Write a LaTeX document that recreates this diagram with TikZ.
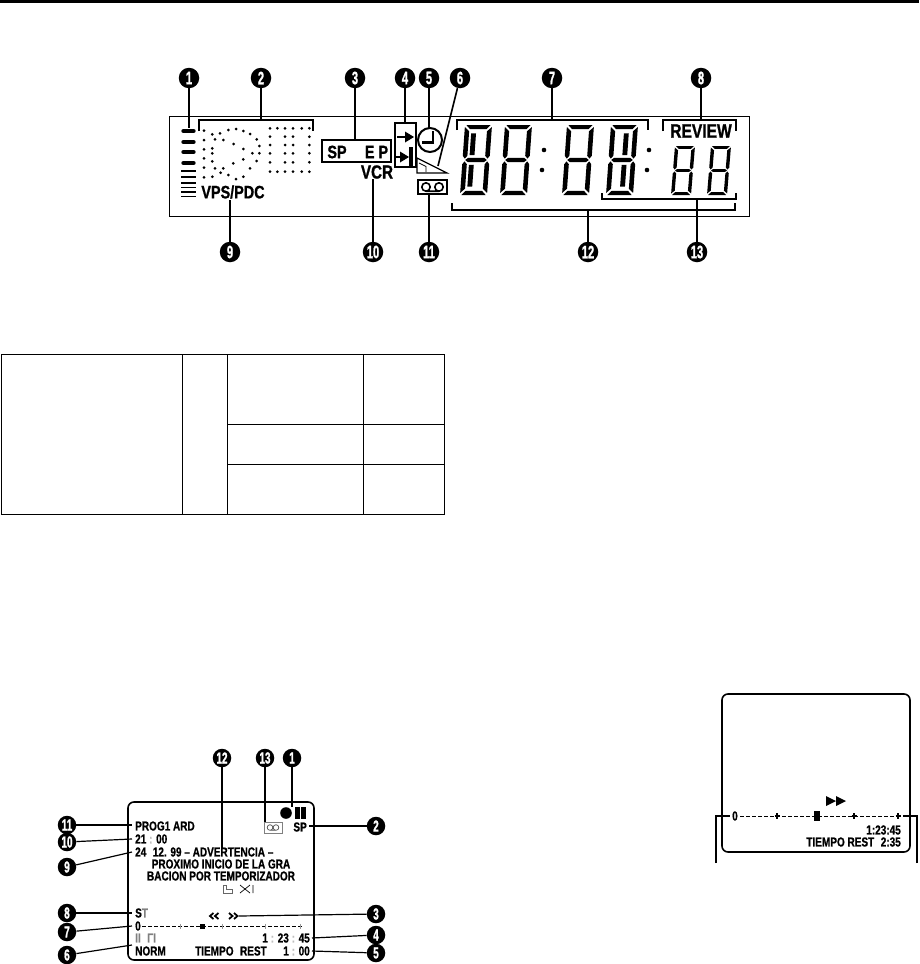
\documentclass[tikz,border=0pt]{standalone}
\usepackage{fontspec}
\setmainfont{Liberation Sans}
\newfontfamily\lcdfont[FakeStretch=0.8, FakeBold=1]{Liberation Sans Bold}
\newfontfamily\osdfont[FakeStretch=0.77, FakeBold=0.8]{Liberation Sans Bold}
\newfontfamily\badgefont[FakeStretch=0.62, FakeBold=1.2]{Liberation Sans Bold}
\usetikzlibrary{arrows.meta, positioning}
\newcommand{\lcddigit}[5]{%
  \begin{scope}[shift={(#1,#2)}, x={(#3 pt,0pt)}, y={(-#5 pt,-#4 pt)}]
    \fill (.05,0)--(.95,0)--(.8,.06)--(.2,.06)--cycle;
    \fill (.05,1)--(.95,1)--(.8,.94)--(.2,.94)--cycle;
    \fill (.1,.5)--(.2,.47)--(.8,.47)--(.9,.5)--(.8,.53)--(.2,.53)--cycle;
    \fill (0,.03)--(.17,.09)--(.17,.44)--(.08,.48)--(0,.44)--cycle;
    \fill (0,.97)--(.17,.91)--(.17,.56)--(.08,.52)--(0,.56)--cycle;
    \fill (1,.03)--(.83,.09)--(.83,.44)--(.92,.48)--(1,.44)--cycle;
    \fill (1,.97)--(.83,.91)--(.83,.56)--(.92,.52)--(1,.56)--cycle;
  \end{scope}}
\newcommand{\lcdbars}[3]{%
  \begin{scope}[shift={(#1,#2)}, x={(27pt,0pt)}, y={(-5pt,-70pt)}]
    \fill (#3,.12)--(#3+.18,.12)--(#3+.18,.43)--(#3,.43)--cycle;
    \fill (#3,.57)--(#3+.18,.57)--(#3+.18,.88)--(#3,.88)--cycle;
  \end{scope}}
\tikzset{
  badge/.style={circle, fill=black, text=white, inner sep=0pt, minimum size=20.5pt,
    font=\badgefont\fontsize{18}{18}\selectfont},
  smallbadge/.style={badge, minimum size=18.5pt, font=\badgefont\fontsize{16}{16}\selectfont},
  lead/.style={line width=1.6pt},
  osdlead/.style={line width=1.2pt},
  lcdlabel/.style={inner sep=0pt, font=\lcdfont\fontsize{#1}{#1}\selectfont},
  osd/.style={inner sep=0pt, anchor=west, font=\osdfont\fontsize{13}{13}\selectfont},
  osdright/.style={osd, anchor=east},
  grid/.style={line width=1pt},
  faint/.style={black!40, line width=0.5pt},
  dashline/.style={line width=1pt, dash pattern=on 4pt off 2pt}
}
\begin{document}
\begin{tikzpicture}[x=1pt, y=-1pt, >=Stealth]
  \useasboundingbox (0,0) rectangle (919,964);
  \fill (0,0) rectangle (919,3);
  % display panel
  \draw[line width=1pt] (169,116) rectangle (749,216);
  \node[badge] (a1) at (189,78) {1};
  \node[badge] (a2) at (261,78) {2};
  \node[badge] (a3) at (355,78) {3};
  \node[badge] (a4) at (405,78) {4};
  \node[badge] (a5) at (429,78) {5};
  \node[badge] (a6) at (460,78) {6};
  \node[badge] (a7) at (552,78) {7};
  \node[badge] (a8) at (701,78) {8};
  \node[badge] (a9) at (230,252) {9};
  \node[badge] (a10) at (373,252) {10};
  \node[badge] (a11) at (429,252) {11};
  \node[badge] (a12) at (588,252) {12};
  \node[badge] (a13) at (697,252) {13};
  % level bars
  \foreach \y in {131,142,152,163}{ \draw[line width=4.4pt, line cap=round] (183.5,\y) -- (193.5,\y); }
  \foreach \y in {171,177,183,187.5,192,196.5}{ \draw[line width=1.7pt] (181,\y) -- (196,\y); }
  % dial dots
  \foreach \a/\b in {87/32,160/30,183/27,205/33,135/40,112/43,225/42,120/58,145/60,87/60,245/58,
      176/72,253/78,87/88,112/85,205/87,112/100,232/100,253/100,87/115,205/118,245/123,112/124,
      175/130,87/143,120/145,145/145,225/145,137/158,160/165,87/172,112/170,205/170,183/177}{
    \fill (175+\a/3,120+\b/3) circle (1.5);
  }
  \foreach \y in {128.3,171.7}{
    \foreach \x in {270,277.3,285,293,301.7,309.3}{ \fill (\x,\y) circle (1.5); }}
  \foreach \y in {136.7,145,153.3,162.3}{
    \foreach \x in {270,285,293,309.3}{ \fill (\x,\y) circle (1.5); }}
  % labels
  \node[lcdlabel=18] (vps) at (233,192) {VPS/PDC};
  \node[lcdlabel=18] (sp) at (337,152) {SP};
  \node[lcdlabel=18] (ep) at (376.5,152) {E\hspace{4pt}P};
  \node[lcdlabel=19] (vcr) at (377,172) {VCR};
  \node[lcdlabel=19.5] (review) at (701,131) {REVIEW};
  \draw[line width=2.2pt] (322,140) rectangle (391,162);
  % arrows box
  \draw[line width=2.2pt] (395,123) rectangle (416,167);
  \draw[line width=2.6pt] (397,137) -- (407,137);
  \fill (405,131.5) -- (414,137) -- (405,142.5) -- cycle;
  \draw[line width=2.6pt] (396,157) -- (402,157);
  \fill (400,151.5) -- (409,157) -- (400,162.5) -- cycle;
  \draw[line width=3.2pt] (411,147) -- (411,166);
  % clock
  \draw[line width=2pt] (430,140) circle (12);
  \draw[line width=2.2pt] (433,131) -- (433,142.5) -- (422,142.5);
  % tape wedge and cassette
  \draw[line width=1.2pt] (417,158) -- (447,173) -- (417,173) -- cycle;
  \draw[line width=0.8pt] (419,163) -- (426,166.5) -- (426,172);
  \draw[line width=2pt] (418,180) rectangle (447,194);
  \draw[line width=1.6pt] (426,187) circle (4.2) (439,187) circle (4.2) (426,191.2) -- (439,191.2);
  % digits
  \foreach \x in {465,505,567,611}{ \lcddigit{\x}{125}{27}{70}{5} }
  \lcdbars{465}{125}{.25}
  \lcdbars{611}{125}{.5}
  \foreach \x in {675,711}{ \lcddigit{\x}{146}{20}{49}{4} }
  \foreach \x in {543,648}{
    \fill (\x+1,150) circle (2.3);
    \fill (\x-1,170) circle (2.3);
  }
  % connectors of the panel
  \coordinate (e1) at (189,128);
  \coordinate (e2) at (261,120);
  \coordinate (e3) at (355,140);
  \coordinate (e4) at (405,123);
  \coordinate (e5) at (429,128);
  \coordinate (e6) at (438,166);
  \coordinate (e7) at (552,120);
  \coordinate (e8) at (701,120);
  \coordinate (e9) at (230,200);
  \coordinate (e10) at (373,179);
  \coordinate (e11) at (429,194);
  \coordinate (e12) at (588,210);
  \coordinate (e13) at (697,199);
  \foreach \n in {1,...,13}{ \draw[lead] (a\n) -- (e\n); }
  \draw[lead] (199,131) -- (199,120) -- (313,120) -- (313,131);
  \draw[lead] (457,130) -- (457,120) -- (648,120) -- (648,130);
  \draw[lead] (663,131) -- (663,120) -- (736,120) -- (736,131);
  \draw[lead] (452,203) -- (452,210) -- (735,210) -- (735,203);
  \draw[lead] (602,193) -- (602,199) -- (736,199) -- (736,193);
  % empty table
  \draw[grid] (1,354) rectangle (444,514);
  \draw[grid] (182,354) -- (182,514);
  \draw[grid] (227,354) -- (227,514);
  \draw[grid] (363,354) -- (363,514);
  \draw[grid] (227,424) -- (444,424);
  \draw[grid] (227,464) -- (444,464);
  % screen on the left
  \draw[line width=1.6pt, rounded corners=6pt] (128,802) rectangle (314,960);
  \node[smallbadge] (b12) at (222,758) {12};
  \node[smallbadge] (b13) at (265,758) {13};
  \node[smallbadge] (b1) at (292,758) {1};
  \node[smallbadge] (b2) at (376,826) {2};
  \node[smallbadge] (b3) at (376,914) {3};
  \node[smallbadge] (b4) at (376,935) {4};
  \node[smallbadge] (b5) at (376,953) {5};
  \node[smallbadge] (b11) at (67,825) {11};
  \node[smallbadge] (b10) at (67,842) {10};
  \node[smallbadge] (b9) at (67,867) {9};
  \node[smallbadge] (b8) at (67,913) {8};
  \node[smallbadge] (b7) at (67,932) {7};
  \node[smallbadge] (b6) at (67,955) {6};
  \node[osd] (prog) at (135,826) {PROG1 ARD};
  \node[osd] (hour) at (135,839) {21 {\color{black!25}:} 00};
  \node[osd] (date) at (135,852) {24\enspace 12. 99 – ADVERTENCIA –};
  \node[osd, anchor=center] (warn1) at (221,864) {PROXIMO INICIO DE LA GRA};
  \node[osd, anchor=center] (warn2) at (221,876) {BACION POR TEMPORIZADOR};
  \node[osd] (st) at (135,913) {S{\color{black!50}T}};
  \node[osd] (zero) at (135,926) {0};
  \node[osd] (norm) at (135,951) {NORM};
  \node[osd] (mode) at (135,938) {\color{black!50}II\enspace \char"0393 I};
  \node[osd] (rest) at (195,951) {TIEMPO\enspace REST};
  \node[osdright] (rem) at (310,951) {1 {\color{black!25}:} 00};
  \node[osdright] (count) at (310,938) {1 {\color{black!25}:} 23 {\color{black!25}:} 45};
  \node[osdright] (spb) at (307,827) {SP};
  % record, pause, cassette
  \fill (286,813) circle (5.8);
  \fill (294.5,807) rectangle (299.5,819);
  \fill (301,807) rectangle (306,819);
  \draw[black!50, line width=0.7pt] (264,822) rectangle (282,833);
  \draw[black!70, line width=0.7pt] (270,827.5) circle (2.8) (276,827.5) circle (2.8) (270,830.3) -- (276,830.3);
  % hand and cross
  \draw[black!60, line width=0.7pt] (223,885) -- (226,885) -- (226,889) -- (232,889) -- (232,893) -- (223,893) -- cycle;
  \draw[line width=0.7pt] (240,885) -- (250,893) (240,893) -- (250,885) (253,885) -- (253,893);
  % scan marks
  \foreach \x in {210,215}{ \draw[line width=1.8pt] (\x+3.5,913) -- (\x,916) -- (\x+3.5,919); }
  \foreach \x in {229,234}{ \draw[line width=1.8pt] (\x,913) -- (\x+3.5,916) -- (\x,919); }
  % progress line
  \draw[dashline] (142,926) -- (303,926);
  \foreach \x in {180,222,265,300}{ \draw[faint] (\x,923.5) -- (\x,928.5); }
  \fill (199.5,923.5) rectangle (204.5,929);
  % connectors of the screen
  \coordinate (s1) at (292,807);
  \coordinate (s2) at (309,826);
  \coordinate (s3) at (239,916);
  \coordinate (s4) at (312,938);
  \coordinate (s5) at (312,951);
  \coordinate (s6) at (132,945);
  \coordinate (s7) at (132,926);
  \coordinate (s8) at (132,913);
  \coordinate (s9) at (132,852);
  \coordinate (s10) at (132,839);
  \coordinate (s11) at (132,825);
  \coordinate (s12) at (222,848);
  \coordinate (s13) at (265,822);
  \foreach \n in {1,...,13}{ \draw[osdlead] (b\n) -- (s\n); }
  % screen on the right
  \draw[line width=1.6pt, rounded corners=6pt] (722,694) rectangle (910,852);
  \fill (826,796) -- (836,801) -- (826,806) -- cycle;
  \fill (836,796) -- (846,801) -- (836,806) -- cycle;
  \node[osd] (zeroc) at (732,816) {0};
  \draw[dashline] (740,816) -- (898,816);
  \foreach \x in {777,854,898}{ \draw[line width=1.2pt] (\x,813) -- (\x,819) (\x-2.5,816) -- (\x+2.5,816); }
  \fill (814,811) rectangle (820,821);
  \node[osdright] (time) at (901,830) {1:23:45};
  \node[osdright] (remc) at (901,842) {TIEMPO REST\enspace 2:35};
  \coordinate (lc) at (730,816);
  \coordinate (rc) at (903,816);
  \coordinate (lf) at (716,863);
  \coordinate (rf) at (917,863);
  \draw[osdlead] (lf) |- (lc);
  \draw[osdlead] (rf) |- (rc);
\end{tikzpicture}
\end{document}
